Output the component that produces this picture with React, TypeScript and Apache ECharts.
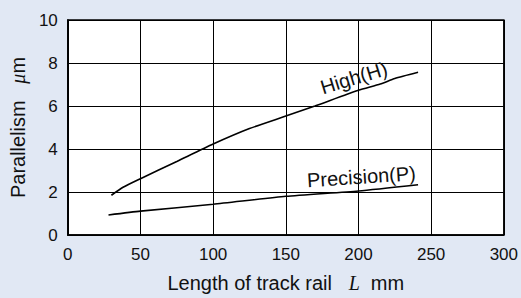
import React, { useEffect, useRef } from "react";
import * as echarts from "echarts";

const xTicks = [0, 50, 100, 150, 200, 250, 300];
const yTicks = [0, 2, 4, 6, 8, 10];
const highX = [30, 38, 50, 75, 100, 125, 150, 170, 200, 215, 225, 241];
const highY = [1.85, 2.22, 2.62, 3.42, 4.23, 4.95, 5.53, 6.0, 6.73, 7.02, 7.28, 7.57];
const precX = [28, 50, 100, 150, 200, 241];
const precY = [0.93, 1.11, 1.43, 1.8, 2.05, 2.34];
const highLabel = { text: "High(H)", at: [196.8, 7.31], angle: 17 };
const precLabel = { text: "Precision(P)", at: [202, 2.71], angle: 3.8 };

const FONT = "'Liberation Sans', Arial, Helvetica, sans-serif";
const INK = "#111";

export default function App() {
  const ref = useRef<HTMLDivElement>(null);
  useEffect(() => {
    if (!ref.current) return;
    const chart = echarts.init(ref.current, null, { renderer: "svg" });
    const option: any = {
      animation: false,
      backgroundColor: "#e1e8f4",
      textStyle: { fontFamily: FONT, color: INK },
      grid: {
        left: 67.5,
        right: 12.7,
        top: 20,
        bottom: 61.2,
        show: true,
        backgroundColor: "#ffffff",
        borderColor: "#000",
        borderWidth: 1.5,
      },
      xAxis: {
        type: "value",
        min: xTicks[0],
        max: xTicks[xTicks.length - 1],
        interval: 50,
        name: "Length of track rail   {i|L}  mm",
        nameLocation: "middle",
        nameGap: 38,
        nameTextStyle: {
          fontSize: 20,
          color: INK,
          fontFamily: FONT,
          rich: {
            i: { fontFamily: "'Liberation Serif', 'DejaVu Serif', serif", fontStyle: "italic", fontSize: 20, color: INK },
          },
        },
        axisLine: { show: true, lineStyle: { color: "#000", width: 1.5 } },
        axisTick: { show: false },
        axisLabel: { fontSize: 17, color: INK, margin: 11, fontFamily: FONT },
        splitLine: { show: true, lineStyle: { color: "#000", width: 1 } },
      },
      yAxis: {
        type: "value",
        min: yTicks[0],
        max: yTicks[yTicks.length - 1],
        interval: 2,
        name: "Parallelism   {i|μ}m",
        nameLocation: "middle",
        nameGap: 29,
        nameTextStyle: {
          fontSize: 20,
          color: INK,
          fontFamily: FONT,
          rich: {
            i: { fontFamily: "'Liberation Serif', 'DejaVu Serif', serif", fontStyle: "italic", fontSize: 20, color: INK },
          },
        },
        axisLine: { show: true, lineStyle: { color: "#000", width: 1.5 } },
        axisTick: { show: false },
        axisLabel: { fontSize: 17, color: INK, margin: 10, fontFamily: FONT },
        splitLine: { show: true, lineStyle: { color: "#000", width: 1 } },
      },
      series: [
        {
          type: "line",
          name: "High(H)",
          data: highX.map((x, i) => [x, highY[i]]),
          showSymbol: false,
          symbol: "none",
          smooth: 0.2,
          lineStyle: { color: "#000", width: 1.6 },
        },
        {
          type: "line",
          name: "Precision(P)",
          data: precX.map((x, i) => [x, precY[i]]),
          showSymbol: false,
          symbol: "none",
          smooth: 0.2,
          lineStyle: { color: "#000", width: 1.6 },
        },
      ],
    };
    chart.setOption(option);
    const mk = (l: { text: string; at: number[]; angle: number }) => {
      const p = chart.convertToPixel({ gridIndex: 0 }, l.at) as number[];
      return {
        type: "text",
        x: p[0],
        y: p[1],
        rotation: (l.angle * Math.PI) / 180,
        style: {
          text: l.text,
          fontSize: 20,
          fontFamily: FONT,
          fill: INK,
          align: "center",
          verticalAlign: "middle",
        },
        z: 10,
      };
    };
    chart.setOption({ graphic: [mk(highLabel), mk(precLabel)] });
    return () => chart.dispose();
  }, []);
  return <div ref={ref} style={{ width: 521, height: 298, position: "absolute", left: 0, top: 0 }} />;
}
